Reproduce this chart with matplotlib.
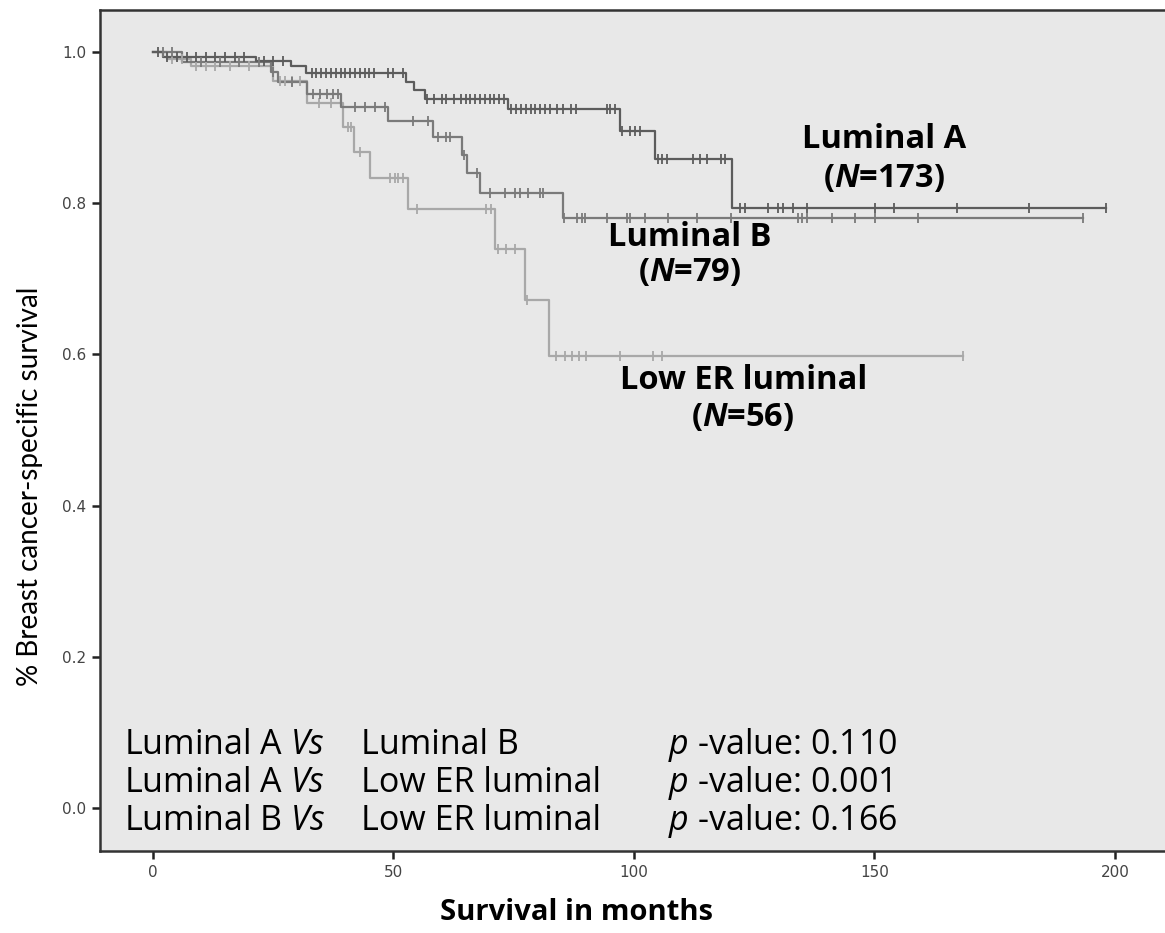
import numpy as np
import matplotlib
matplotlib.use("Agg")
import matplotlib.pyplot as plt

plt.rcParams["mathtext.fontset"] = "custom"
plt.rcParams["mathtext.rm"] = "Open Sans"
plt.rcParams["mathtext.it"] = "Open Sans:italic"
plt.rcParams["mathtext.bf"] = "Open Sans:bold"
plt.rcParams["mathtext.bfit"] = "Open Sans:italic:bold"

# Kaplan-Meier step levels (months, survival) and censoring times per group
lum_a_times = [0, 2, 21.5, 28.8, 31.9, 52.7, 54.2, 56.5, 73.9, 97.1, 104.4, 120.4]
lum_a_surv = [1.0, 0.994, 0.988, 0.981, 0.972, 0.961, 0.950, 0.938, 0.924, 0.896, 0.858, 0.794]
lum_a_end = 198.1
lum_a_cens = [1, 3, 5, 7, 9, 11, 13, 15, 17, 19, 23, 25, 27, 33, 34, 35, 36, 37, 38, 39,
              40, 41, 42, 43, 44, 45, 46, 48.9, 49.9, 52, 57, 58.5, 60, 61, 62.5, 64, 65,
              66, 67, 68, 69, 70, 71, 72, 73, 74.5, 75.5, 76.5, 77.5, 78.5, 79.5, 80.5,
              81.5, 82.5, 84, 85.2, 87, 88, 94.3, 95, 96, 97.5, 99.2, 100.2, 101.2, 105,
              105.8, 106.8, 112.3, 113.7, 115.1, 118.2, 118.9, 122, 123.1, 127.9, 130, 131,
              133.1, 136, 150.1, 154.1, 167.1, 182.2, 198.1]

lum_b_times = [0, 6, 24.5, 26, 32, 39.2, 48.9, 58.2, 64.2, 65.2, 68, 85.2]
lum_b_surv = [1.0, 0.987, 0.974, 0.961, 0.944, 0.927, 0.909, 0.888, 0.864, 0.840, 0.814, 0.781]
lum_b_end = 193.3
lum_b_cens = [2, 4, 10, 14, 18, 22, 25, 29, 33.3, 34.7, 36.1, 37.5, 38.5, 42, 44.1, 46.2,
              48.2, 54.1, 57.2, 59.3, 61, 61.7, 64.6, 67.3, 70, 73.2, 75.3, 76.3, 78, 80.5,
              81.1, 85.4, 88.1, 89.1, 89.8, 94.3, 98.5, 99.2, 102.3, 107.1, 113.2, 120.1,
              134.2, 134.9, 135.9, 141.1, 145.9, 150.1, 159.1, 193.3]

low_er_times = [0, 3, 8, 25, 32, 39.5, 41.8, 45.1, 53, 71.2, 77.3, 82.3]
low_er_surv = [1.0, 0.991, 0.981, 0.962, 0.932, 0.901, 0.868, 0.834, 0.792, 0.740, 0.672, 0.598]
low_er_end = 168.5
low_er_cens = [4, 6, 9, 11, 13, 16, 20, 26.5, 27.5, 29, 30.5, 34.5, 37, 40.5, 41.2, 43,
               49.3, 50.3, 51, 52, 54.8, 69.3, 70.2, 71.8, 73.5, 75.3, 77.8, 83.9, 85.7,
               87.2, 88.6, 90.1, 97.1, 104, 105.8, 168.5]

x_ticks = [0, 50, 100, 150, 200]
y_ticks = [0.0, 0.2, 0.4, 0.6, 0.8, 1.0]

comparisons = [("Luminal A", "Luminal B", "0.110"),
               ("Luminal A", "Low ER luminal", "0.001"),
               ("Luminal B", "Low ER luminal", "0.166")]

groups = [
    (lum_a_times, lum_a_surv, lum_a_end, lum_a_cens, "#5c5c5c"),
    (lum_b_times, lum_b_surv, lum_b_end, lum_b_cens, "#7a7a7a"),
    (low_er_times, low_er_surv, low_er_end, low_er_cens, "#a8a8a8"),
]

fig = plt.figure(figsize=(11.65, 9.33), dpi=100)
ax = fig.add_axes([100 / 1165, 82 / 933, 1065 / 1165, 841 / 933])
ax.set_facecolor("#e8e8e8")

# draw lightest first so darker curves stay on top
for times, surv, end, cens, color in reversed(groups):
    t = np.append(times, end)
    s = np.append(surv, surv[-1])
    ax.step(t, s, where="post", color=color, lw=1.6, zorder=2)
    idx = np.searchsorted(times, cens, side="right") - 1
    cs = np.array(surv)[idx]
    ax.plot(cens, cs, ls="none", marker="|", ms=7, mew=1.3, color=color, zorder=3)

ax.set_xlim(-11.0, 210.4)
ax.set_ylim(-0.0569, 1.0556)
ax.set_xticks(x_ticks)
ax.set_yticks(y_ticks)
ax.set_yticklabels([f"{v:.1f}" for v in y_ticks])
ax.tick_params(direction="out", length=6, width=1.8, color="#222222",
               labelsize=11, labelcolor="#444444", pad=4)
for lab in ax.get_xticklabels() + ax.get_yticklabels():
    lab.set_family("DejaVu Sans")
ax.spines["right"].set_visible(False)
for side in ["left", "top", "bottom"]:
    ax.spines[side].set_linewidth(1.8)
    ax.spines[side].set_color("#333333")

# group labels
lab_kw = dict(ha="center", va="center", fontsize=23.5, fontweight="bold",
              family="Open Sans", color="black")
ax.text(152, 0.884, "Luminal A", **lab_kw)
ax.text(152, 0.833, r"($\mathbfit{N}$=173)", **lab_kw)
ax.text(111.6, 0.755, "Luminal B", **lab_kw)
ax.text(111.6, 0.708, r"($\mathbfit{N}$=79)", **lab_kw)
ax.text(122.7, 0.566, "Low ER luminal", **lab_kw)
ax.text(122.7, 0.516, r"($\mathbfit{N}$=56)", **lab_kw)

# log-rank comparison table
row_y = [0.083, 0.033, -0.017]
txt_kw = dict(va="center", ha="left", fontsize=24.5, family="Open Sans", color="black")
for (g1, g2, p), y in zip(comparisons, row_y):
    ax.text(-6.0, y, g1 + r" $\mathit{Vs}$", **txt_kw)
    ax.text(43.3, y, g2, **txt_kw)
    ax.text(107.0, y, r"$\mathit{p}$ -value: " + p, **txt_kw)

fig.text(30 / 1165, 1 - 486 / 933, "% Breast cancer-specific survival", rotation=90,
         ha="center", va="center", fontsize=20, family="Lato", color="black")
fig.text(576 / 1165, 1 - 912 / 933, "Survival in months", ha="center", va="center",
         fontsize=21, fontweight="bold", family="Open Sans", color="black")

fig.savefig("out.png", dpi=100, facecolor="white")
